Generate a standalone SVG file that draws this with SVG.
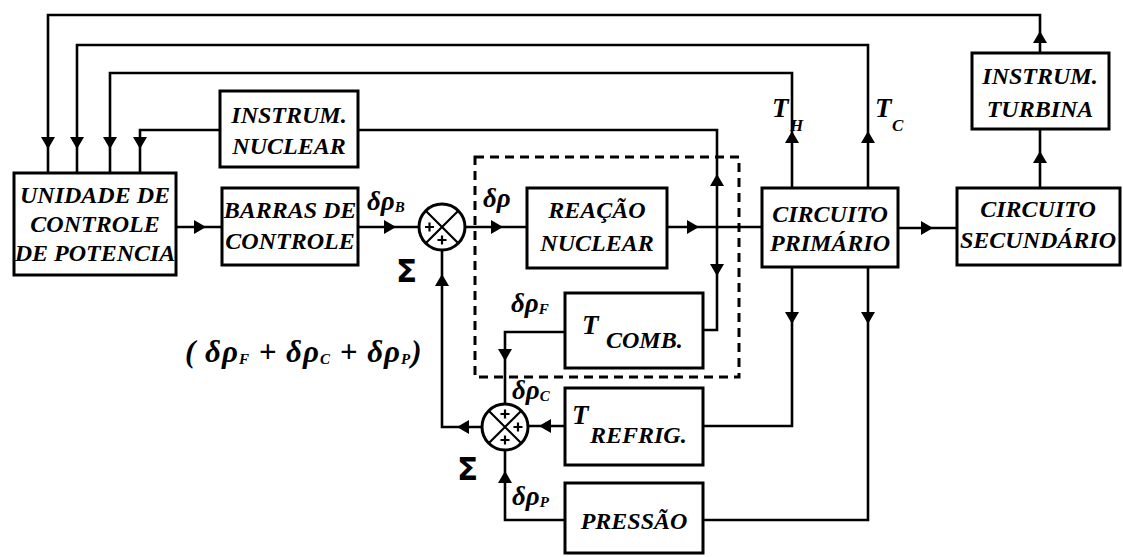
<svg xmlns="http://www.w3.org/2000/svg" xmlns:xlink="http://www.w3.org/1999/xlink" width="1123" height="557" viewBox="0 0 1123 557">
<style>
.box{fill:#fff;stroke:#000;stroke-width:3}
.ln{fill:none;stroke:#000;stroke-width:2.6}
.lbl{font-family:"Liberation Serif","Times New Roman",serif;font-weight:bold;font-style:italic;font-size:24px;text-anchor:middle;fill:#000}
.gr{font-family:"Liberation Serif","Times New Roman",serif;font-weight:bold;font-style:italic;font-size:27px;fill:#000}
.sig{font-family:"DejaVu Sans",sans-serif;font-weight:bold;font-size:31px;fill:#000}
.sub{font-size:15px}
.dash{fill:none;stroke:#000;stroke-width:3;stroke-dasharray:9 6}
.pl{fill:none;stroke:#000;stroke-width:2.2}
</style>
<defs>
<path id="ah" d="M0,0 L-12,-7 L-12,7 Z" fill="#000"/>
</defs>
<rect width="1123" height="557" fill="#fff"/>
<rect class="dash" x="475" y="157" width="264" height="220"/>
<g id="connectors">
<path class="ln" d="M1040,53 V15 H48 V173"/>
<path class="ln" d="M1040,188 V129"/>
<path class="ln" d="M868,188 V45 H77 V173"/>
<path class="ln" d="M792,188 V73 H110 V173"/>
<path class="ln" d="M667,227 H762"/>
<path class="ln" d="M717,227 V130 H358"/>
<path class="ln" d="M220,130 H140 V173"/>
<path class="ln" d="M176,227 H222"/>
<path class="ln" d="M358,227 H419"/>
<path class="ln" d="M465,227 H527"/>
<path class="ln" d="M717,227 V330 H703"/>
<path class="ln" d="M565,332 H505 V404"/>
<path class="ln" d="M792,267 V426 H703"/>
<path class="ln" d="M565,426 H528"/>
<path class="ln" d="M868,267 V520 H703"/>
<path class="ln" d="M565,520 H505 V450"/>
<path class="ln" d="M482,427 H442 V250"/>
<path class="ln" d="M898,228 H957"/>
<use xlink:href="#ah" transform="translate(1040,31) rotate(-90)"/>
<use xlink:href="#ah" transform="translate(48,149) rotate(90)"/>
<use xlink:href="#ah" transform="translate(1040,151) rotate(-90)"/>
<use xlink:href="#ah" transform="translate(868,131) rotate(-90)"/>
<use xlink:href="#ah" transform="translate(77,149) rotate(90)"/>
<use xlink:href="#ah" transform="translate(792,131) rotate(-90)"/>
<use xlink:href="#ah" transform="translate(110,149) rotate(90)"/>
<use xlink:href="#ah" transform="translate(699,227)"/>
<use xlink:href="#ah" transform="translate(717,174) rotate(-90)"/>
<use xlink:href="#ah" transform="translate(140,149) rotate(90)"/>
<use xlink:href="#ah" transform="translate(206,227)"/>
<use xlink:href="#ah" transform="translate(396,227)"/>
<use xlink:href="#ah" transform="translate(503,227)"/>
<use xlink:href="#ah" transform="translate(717,276) rotate(90)"/>
<use xlink:href="#ah" transform="translate(505,361) rotate(90)"/>
<use xlink:href="#ah" transform="translate(792,324) rotate(90)"/>
<use xlink:href="#ah" transform="translate(539,426) rotate(180)"/>
<use xlink:href="#ah" transform="translate(868,324) rotate(90)"/>
<use xlink:href="#ah" transform="translate(505,471) rotate(-90)"/>
<use xlink:href="#ah" transform="translate(457,427) rotate(180)"/>
<use xlink:href="#ah" transform="translate(442,274) rotate(-90)"/>
<use xlink:href="#ah" transform="translate(933,228)"/>
</g>
<g id="unidade">
<rect class="box" x="14" y="173" width="162" height="102"/>
<text class="lbl" x="95" y="203">UNIDADE DE</text>
<text class="lbl" x="95" y="232">CONTROLE</text>
<text class="lbl" x="95" y="261">DE POTENCIA</text>
</g>
<g id="instrum_nuclear">
<rect class="box" x="220" y="91" width="138" height="76"/>
<text class="lbl" x="289" y="123">INSTRUM.</text>
<text class="lbl" x="289" y="154">NUCLEAR</text>
</g>
<g id="barras">
<rect class="box" x="222" y="188" width="136" height="77"/>
<text class="lbl" x="290" y="218">BARRAS DE</text>
<text class="lbl" x="290" y="249">CONTROLE</text>
</g>
<g id="reacao">
<rect class="box" x="527" y="188" width="140" height="80"/>
<text class="lbl" x="597" y="218">REAÇÃO</text>
<text class="lbl" x="597" y="251">NUCLEAR</text>
</g>
<g id="circuito_primario">
<rect class="box" x="762" y="188" width="136" height="79"/>
<text class="lbl" x="830" y="222">CIRCUITO</text>
<text class="lbl" x="830" y="251">PRIMÁRIO</text>
</g>
<g id="circuito_secundario">
<rect class="box" x="957" y="188" width="163" height="77"/>
<text class="lbl" x="1038" y="217">CIRCUITO</text>
<text class="lbl" x="1038" y="248">SECUNDÁRIO</text>
</g>
<g id="instrum_turbina">
<rect class="box" x="972" y="53" width="137" height="76"/>
<text class="lbl" x="1040" y="84">INSTRUM.</text>
<text class="lbl" x="1040" y="117">TURBINA</text>
</g>
<g id="t_comb">
<rect class="box" x="565" y="293" width="138" height="75"/>
<text class="gr" x="582" y="334">T</text>
<text class="lbl" x="606" y="348" style="text-anchor:start">COMB.</text>
</g>
<g id="t_refrig">
<rect class="box" x="565" y="388" width="138" height="77"/>
<text class="gr" x="572" y="424">T</text>
<text class="lbl" x="590" y="443" style="text-anchor:start">REFRIG.</text>
</g>
<g id="pressao">
<rect class="box" x="565" y="483" width="138" height="70"/>
<text class="lbl" x="634" y="529">PRESSÃO</text>
</g>
<g id="soma1">
<circle cx="442" cy="227" r="23" fill="#fff" stroke="#000" stroke-width="3"/>
<path class="pl" d="M425.7,210.7 L458.3,243.3 M458.3,210.7 L425.7,243.3"/>
<path class="pl" d="M425,227 h9 M429.5,222.5 v9 M437.5,240 h9 M442,235.5 v9"/>
<text class="sig" x="396" y="282">Σ</text>
</g>
<g id="soma2">
<circle cx="505" cy="427" r="23" fill="#fff" stroke="#000" stroke-width="3"/>
<path class="pl" d="M488.7,410.7 L521.3,443.3 M521.3,410.7 L488.7,443.3"/>
<path class="pl" d="M500.5,414 h9 M505,409.5 v9 M513.5,427 h9 M518,422.5 v9 M500.5,440 h9 M505,435.5 v9"/>
<text class="sig" x="457" y="480">Σ</text>
</g>
<g id="labels">
<text class="gr" x="367" y="210">δρ<tspan class="sub" dy="2">B</tspan></text>
<text class="gr" x="483" y="207">δρ</text>
<text class="gr" x="511" y="312">δρ<tspan class="sub" dy="2">F</tspan></text>
<text class="gr" x="512" y="399">δρ<tspan class="sub" dy="2">C</tspan></text>
<text class="gr" x="512" y="505">δρ<tspan class="sub" dy="2">P</tspan></text>
<text class="gr" x="185" y="362" style="font-size:31px;letter-spacing:1px">( δρ<tspan class="sub" dy="2">F</tspan><tspan dy="-2"> + δρ</tspan><tspan class="sub" dy="2">C</tspan><tspan dy="-2"> + δρ</tspan><tspan class="sub" dy="2">P</tspan><tspan dy="-2">)</tspan></text>
<text class="gr" x="772" y="117">T</text>
<text class="lbl" x="790" y="131" style="font-size:17px;text-anchor:start">H</text>
<text class="gr" x="875" y="117">T</text>
<text class="lbl" x="892" y="131" style="font-size:17px;text-anchor:start">C</text>
</g>
</svg>
